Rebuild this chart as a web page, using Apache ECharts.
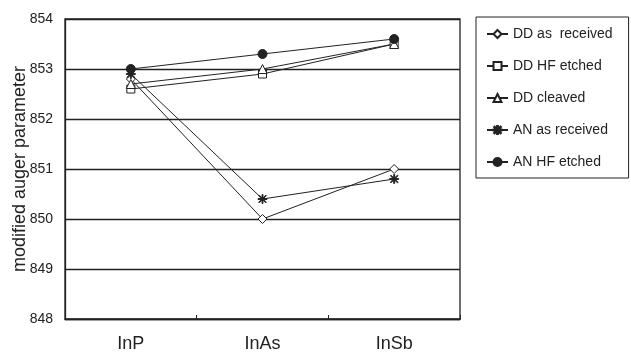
<!DOCTYPE html>
<html>
<head>
<meta charset="utf-8">
<script src="https://cdn.jsdelivr.net/npm/echarts@6/dist/echarts.min.js"></script>
<style>html,body{margin:0;padding:0;background:#fff;}#c{width:631px;height:356px;}</style>
</head>
<body>
<div id="c"></div>
<script>
var categories = ['InP', 'InAs', 'InSb'];
var seriesNames = ['DD as  received', 'DD HF etched', 'DD cleaved', 'AN as received', 'AN HF etched'];
var ddAsReceived = [852.8, 850.0, 851.0];
var ddHFEtched = [852.6, 852.9, 853.5];
var ddCleaved = [852.7, 853.0, 853.5];
var anAsReceived = [852.9, 850.4, 850.8];
var anHFEtched = [853.0, 853.3, 853.6];
var yTicks = [848, 849, 850, 851, 852, 853, 854];

var ink = '#222';
var font = 'Liberation Sans, Arial, sans-serif';
var asterisk = 'path://M4.5 0L5.5 0L5.5 10L4.5 10Z M0 4.5L10 4.5L10 5.5L0 5.5Z M0.7 1.4L1.4 0.7L9.3 8.6L8.6 9.3Z M8.6 0.7L9.3 1.4L1.4 9.3L0.7 8.6Z';

function mk(name, data, symbol, size, fill) {
  return {
    name: name, type: 'line', data: data, symbol: symbol, symbolSize: size,
    lineStyle: {color: ink, width: 1},
    itemStyle: {color: fill || '#fff', borderColor: ink, borderWidth: 1},
    emphasis: {disabled: true},
    animation: false
  };
}

var chart = echarts.init(document.getElementById('c'));
chart.setOption({
  backgroundColor: '#fff',
  textStyle: {fontFamily: font, color: ink},
  grid: {left: 65, right: 171, top: 19, bottom: 37, show: true, borderColor: ink, borderWidth: 1.3,
         containLabel: false, outerBoundsMode: 'none'},
  legend: {
    orient: 'vertical', left: 476, top: 17,
    data: seriesNames,
    padding: [10, 16, 9, 10],
    itemGap: 18, itemWidth: 21, itemHeight: 10,
    borderColor: ink, borderWidth: 1,
    textStyle: {fontSize: 14, color: ink, fontFamily: font}
  },
  xAxis: {
    type: 'category', data: categories,
    axisLine: {lineStyle: {color: ink, width: 1.3}},
    axisTick: {show: true, inside: true, length: 4, lineStyle: {color: ink}},
    axisLabel: {fontSize: 18, color: ink, margin: 16, fontFamily: font}
  },
  yAxis: {
    type: 'value', min: yTicks[0], max: yTicks[yTicks.length - 1], interval: 1,
    name: 'modified auger parameter', nameLocation: 'middle', nameGap: 36,
    nameMoveOverlap: false,
    nameTextStyle: {fontSize: 18, color: ink, fontFamily: font},
    axisLine: {show: true, lineStyle: {color: ink, width: 1.3}},
    axisTick: {show: false},
    axisLabel: {fontSize: 14, color: ink, margin: 12, fontFamily: font},
    splitLine: {show: true, lineStyle: {color: ink, width: 1.4}}
  },
  series: [
    mk(seriesNames[0], ddAsReceived, 'diamond', 9),
    mk(seriesNames[1], ddHFEtched, 'rect', 8),
    mk(seriesNames[2], ddCleaved, 'triangle', 9),
    mk(seriesNames[3], anAsReceived, asterisk, 9, ink),
    mk(seriesNames[4], anHFEtched, 'circle', 9, ink)
  ]
});
</script>
</body>
</html>
